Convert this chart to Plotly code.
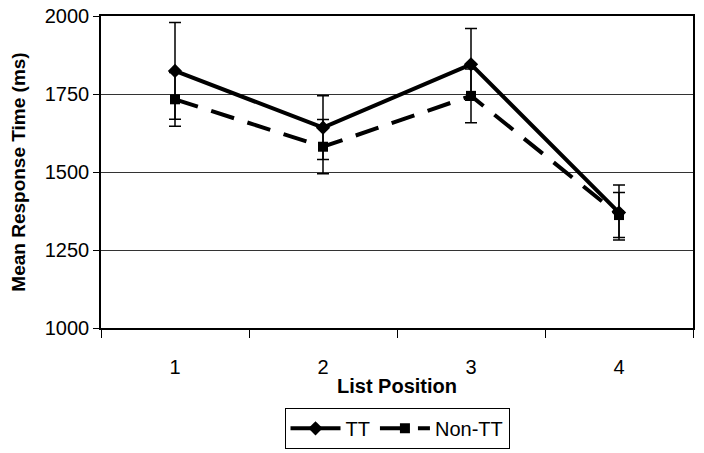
import plotly.graph_objects as go

positions = ['1', '2', '3', '4']
tt_mean = [1824, 1642, 1845, 1370]
tt_err = [155, 102, 115, 88]
non_tt_mean = [1733, 1581, 1744, 1362]
non_tt_err = [86, 87, 86, 72]

y_ticks = [1000, 1250, 1500, 1750, 2000]

font_family = 'Liberation Sans, Arial, sans-serif'

fig = go.Figure()

fig.add_trace(go.Scatter(
    x=positions, y=tt_mean, name='TT', mode='lines+markers',
    line=dict(color='black', width=4),
    marker=dict(symbol='diamond', size=11, color='black'),
    error_y=dict(type='data', array=tt_err, color='black', thickness=1.5, width=6),
))

fig.add_trace(go.Scatter(
    x=positions, y=non_tt_mean, name='Non-TT', mode='lines+markers',
    line=dict(color='black', width=4, dash='24px,14px'),
    marker=dict(symbol='square', size=10, color='black'),
    error_y=dict(type='data', array=non_tt_err, color='black', thickness=1.5, width=6),
))

fig.update_layout(
    width=704, height=453,
    margin=dict(l=101, r=11, t=16, b=125, autoexpand=False),
    paper_bgcolor='white', plot_bgcolor='white',
    font=dict(family=font_family, size=20, color='black'),
    showlegend=True,
    legend=dict(
        orientation='h', x=0.5, xanchor='center', y=-0.256, yanchor='top',
        bordercolor='black', borderwidth=1, font=dict(size=20),
        itemwidth=50, tracegroupgap=0,
    ),
)

fig.update_xaxes(
    type='category', range=[-0.5, 3.5], tickson='boundaries',
    ticks='outside', ticklen=8, tickcolor='black', tickwidth=1,
    showline=True, linecolor='black', linewidth=1.5, mirror=True,
    showgrid=False, zeroline=False, automargin=False,
    tickfont=dict(size=20), ticklabeloverflow='allow',
    title=dict(text='<b>List Position</b>', standoff=2, font=dict(size=20)),
    ticklabelstandoff=20,
)

fig.update_yaxes(
    range=[1000, 2000], tickvals=y_ticks,
    ticks='outside', ticklen=6, tickcolor='black', tickwidth=1,
    showline=True, linecolor='black', linewidth=1.5, mirror=True,
    showgrid=True, gridcolor='#333333', gridwidth=1, zeroline=False,
    automargin=False, tickfont=dict(size=20), ticklabeloverflow='allow',
    title=dict(text='<b>Mean Response Time (ms)</b>', standoff=14, font=dict(size=19)),
)

# drop the default 8px page margin so the figure sits at the window corner
fig.write_html('out.html', config={'displayModeBar': False},
               post_script="document.body.style.margin = '0';")
